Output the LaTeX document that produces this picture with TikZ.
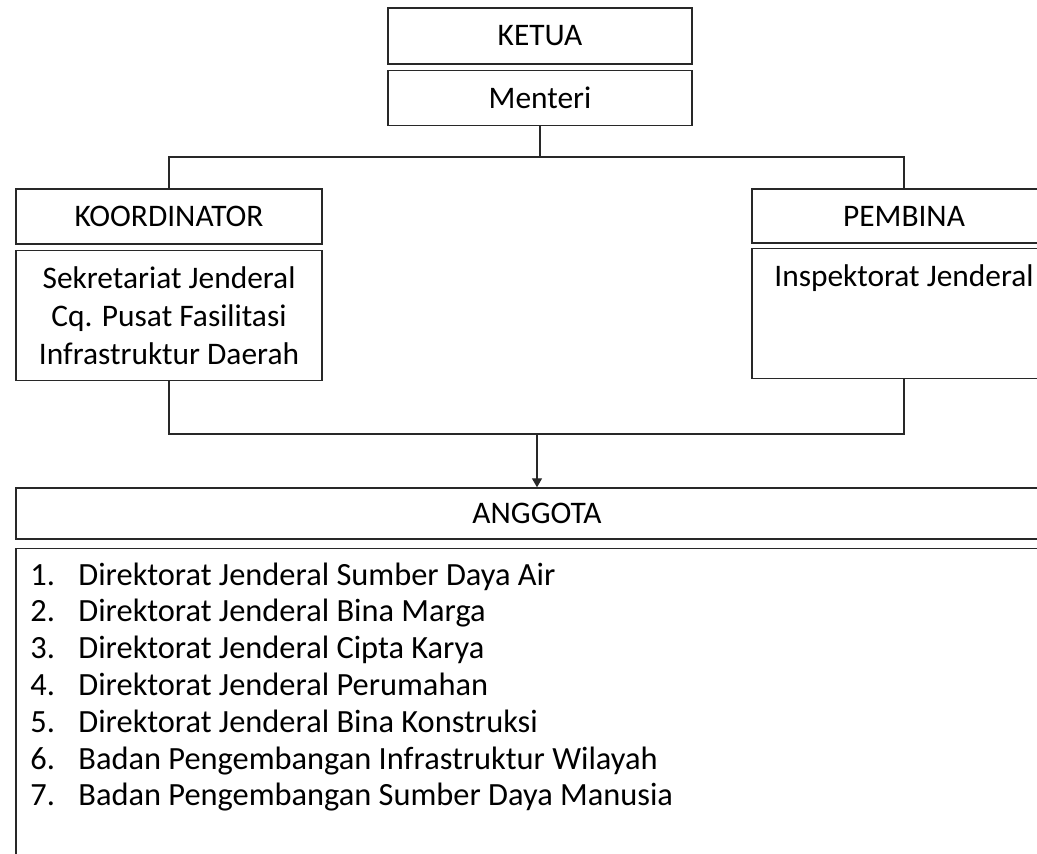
\documentclass[tikz,border=0pt]{standalone}
\usepackage{fontspec}
\setmainfont{Carlito}
\usepackage{tikz}
\usetikzlibrary{positioning}
\usetikzlibrary{arrows.meta}
\definecolor{garis}{RGB}{40,40,40}
\tikzset{kotak/.style={rectangle,draw=garis,line width=0.7pt,inner sep=0pt,align=center,font=\fontsize{15.7}{19}\selectfont},
	hubung/.style={draw=garis,line width=0.65pt},}

\begin{document}
\begin{tikzpicture}[x=0.5pt, y=-0.5pt, >={Triangle[width=5pt,length=4.5pt]}, node distance=2.5pt]
		\useasboundingbox (0,0) rectangle (1037,853);
		\clip (0,0) rectangle (1037,853);
		\node[kotak, minimum width=152pt, minimum height=28pt] (ketua) at (540,36) {KETUA};
		\node[kotak, minimum width=152pt, minimum height=27.5pt] (menteri) [below = of ketua] {Menteri};
		\node[kotak, minimum width=153pt, minimum height=27.5pt] (koord) at (169,216.5) {KOORDINATOR};
		\node[kotak, minimum width=153pt, minimum height=65pt] (sekjen) [below = of koord] {Sekretariat Jenderal\\Cq. Pusat Fasilitasi\\Infrastruktur Daerah};
		\node[kotak, minimum width=152pt, minimum height=27pt] (pembina) at (904,216) {PEMBINA};
		\node[kotak, minimum width=152pt, minimum height=65pt] (itjen) [below = 2pt of pembina] {Inspektorat Jenderal\\~\\~};
		\node[kotak, minimum width=521pt, minimum height=25.5pt] (anggota) at (537,513.5) {ANGGOTA};
		\node[kotak, minimum width=521pt, minimum height=180pt] (daftar) [below = 4pt of anggota] {};
		\node[anchor=base west, inner sep=0pt, font=\fontsize{16.2}{18.4}\selectfont] (isi) at (30,585) {%
			\begin{tabular}[t]{@{}p{24pt}@{}l@{}}
				1. & Direktorat Jenderal Sumber Daya Air\\
				2. & Direktorat Jenderal Bina Marga\\
				3. & Direktorat Jenderal Cipta Karya\\
				4. & Direktorat Jenderal Perumahan\\
				5. & Direktorat Jenderal Bina Konstruksi\\
				6. & Badan Pengembangan Infrastruktur Wilayah\\
				7. & Badan Pengembangan Sumber Daya Manusia
			\end{tabular}};
	
		\coordinate (cabang) at (540,157);
		\coordinate (gabung) at (537,434);
		\path[hubung] (menteri) -- (cabang);
		\path[hubung] (koord.north) |- (cabang) -| (pembina.north);
		\path[hubung] (sekjen.south) |- (gabung) -| (itjen.south);
		\path[hubung,->] (gabung) -- (anggota.north);
	\end{tikzpicture}
\end{document}
